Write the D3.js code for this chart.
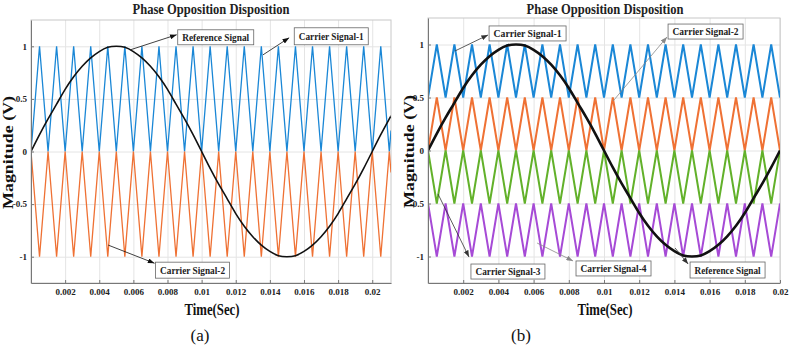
<!DOCTYPE html>
<html>
<head>
<meta charset="utf-8">
<script src="https://cdn.jsdelivr.net/npm/d3@7"></script>
<style>
body { margin: 0; background: #fff; }
svg { display: block; }
</style>
</head>
<body>
<div id="chart"></div>
<script>
// sample times (s) at carrier vertices
var timeA = [0, 0.0005, 0.001, 0.0015, 0.002, 0.0025, 0.003, 0.0035, 0.004, 0.0045,
    0.005, 0.0055, 0.006, 0.0065, 0.007, 0.0075, 0.008, 0.0085, 0.009, 0.0095,
    0.01, 0.0105, 0.011, 0.0115, 0.012, 0.0125, 0.013, 0.0135, 0.014, 0.0145,
    0.015, 0.0155, 0.016, 0.0165, 0.017, 0.0175, 0.018, 0.0185, 0.019, 0.0195,
    0.02, 0.0205, 0.021, 0.0211];
var timeB = timeA.slice(0, 41);

// reference sine
var referenceA = [0, 0.16, 0.31, 0.45, 0.59, 0.71, 0.81, 0.89, 0.95, 0.99,
    1, 0.99, 0.95, 0.89, 0.81, 0.71, 0.59, 0.45, 0.31, 0.16,
    0, -0.16, -0.31, -0.45, -0.59, -0.71, -0.81, -0.89, -0.95, -0.99,
    -1, -0.99, -0.95, -0.89, -0.81, -0.71, -0.59, -0.45, -0.31, -0.16,
    0, 0.16, 0.31, 0.34];
var referenceB = referenceA.slice(0, 41);

// panel (a) carriers
var carrier1A = [0, 1, 0, 1, 0, 1, 0, 1, 0, 1, 0, 1, 0, 1, 0, 1, 0, 1, 0, 1,
    0, 1, 0, 1, 0, 1, 0, 1, 0, 1, 0, 1, 0, 1, 0, 1, 0, 1, 0, 1, 0, 1, 0, 0.2];
var carrier2A = [0, -1, 0, -1, 0, -1, 0, -1, 0, -1, 0, -1, 0, -1, 0, -1, 0, -1, 0, -1,
    0, -1, 0, -1, 0, -1, 0, -1, 0, -1, 0, -1, 0, -1, 0, -1, 0, -1, 0, -1, 0, -1, 0, -0.2];

// panel (b) carriers
var carrier1B = [0.5, 1, 0.5, 1, 0.5, 1, 0.5, 1, 0.5, 1, 0.5, 1, 0.5, 1, 0.5, 1, 0.5, 1, 0.5, 1,
    0.5, 1, 0.5, 1, 0.5, 1, 0.5, 1, 0.5, 1, 0.5, 1, 0.5, 1, 0.5, 1, 0.5, 1, 0.5, 1, 0.5];
var carrier2B = [0, 0.5, 0, 0.5, 0, 0.5, 0, 0.5, 0, 0.5, 0, 0.5, 0, 0.5, 0, 0.5, 0, 0.5, 0, 0.5,
    0, 0.5, 0, 0.5, 0, 0.5, 0, 0.5, 0, 0.5, 0, 0.5, 0, 0.5, 0, 0.5, 0, 0.5, 0, 0.5, 0];
var carrier3B = [0, -0.5, 0, -0.5, 0, -0.5, 0, -0.5, 0, -0.5, 0, -0.5, 0, -0.5, 0, -0.5, 0, -0.5, 0, -0.5,
    0, -0.5, 0, -0.5, 0, -0.5, 0, -0.5, 0, -0.5, 0, -0.5, 0, -0.5, 0, -0.5, 0, -0.5, 0, -0.5, 0];
var carrier4B = [-0.5, -1, -0.5, -1, -0.5, -1, -0.5, -1, -0.5, -1, -0.5, -1, -0.5, -1, -0.5, -1, -0.5, -1, -0.5, -1,
    -0.5, -1, -0.5, -1, -0.5, -1, -0.5, -1, -0.5, -1, -0.5, -1, -0.5, -1, -0.5, -1, -0.5, -1, -0.5, -1, -0.5];

var xTickValues = [0.002, 0.004, 0.006, 0.008, 0.01, 0.012, 0.014, 0.016, 0.018, 0.02];
var xTickLabels = ["0.002", "0.004", "0.006", "0.008", "0.01", "0.012", "0.014", "0.016", "0.018", "0.02"];
var yTickValues = [-1, -0.5, 0, 0.5, 1];
var yTickLabels = ["-1", "-0.5", "0", "0.5", "1"];

var blue = "#1a87d6", orange = "#ef7134", green = "#62b12a", purple = "#a64ad6";
var serif = "'Liberation Serif', 'Times New Roman', serif";

var panels = [
    {
        id: "a", left: 31, right: 391, top: 20, bottom: 283, xMax: 0.0211,
        titleX: 211, ylabX: 8, tagX: 200, carrierWidth: 1.3, refWidth: 1.6,
        time: timeA, reference: referenceA,
        carriers: [{ values: carrier1A, color: blue }, { values: carrier2A, color: orange }],
        notes: [
            { text: "Reference Signal", from: [0.00583, 0.967], tip: [0.00854, 1.11], box: [0.0086, 1.157], w: 76, h: 15, color: "#111" },
            { text: "Carrier Signal-1", from: [0.0136, 0.919], tip: [0.01513, 1.081], box: [0.01543, 1.176], w: 74, h: 17, color: "#111" },
            { text: "Carrier Signal-2", from: [0.00453, -0.89], tip: [0.00724, -1.062], box: [0.0073, -1.052], w: 74, h: 16, color: "#111" }
        ]
    },
    {
        id: "b", left: 428, right: 780, top: 18, bottom: 283, xMax: 0.02,
        titleX: 605, ylabX: 409, tagX: 521, carrierWidth: 2, refWidth: 2.6,
        time: timeB, reference: referenceB,
        carriers: [{ values: carrier1B, color: blue }, { values: carrier2B, color: orange },
                   { values: carrier3B, color: green }, { values: carrier4B, color: purple }],
        notes: [
            { text: "Carrier Signal-1", from: [0.001535, 0.939], tip: [0.00341, 1.09], box: [0.00347, 1.175], w: 77, h: 15, color: "#333" },
            { text: "Carrier Signal-2", from: [0.01052, 0.467], tip: [0.01358, 1.071], box: [0.01364, 1.193], w: 75, h: 15, color: "#888" },
            { text: "Carrier Signal-3", from: [0.000568, -0.41], tip: [0.00233, -1.005], box: [0.00244, -1.071], w: 74, h: 15, color: "#333" },
            { text: "Carrier Signal-4", from: [0.0062, -0.873], tip: [0.00824, -1.042], box: [0.00841, -1.042], w: 75, h: 15, color: "#888" },
            { text: "Reference Signal", from: [0.01404, -0.92], tip: [0.01478, -1.071], box: [0.01489, -1.052], w: 75, h: 16, color: "#333" }
        ]
    }
];

function init() {
    var svg = d3.select("#chart")
        .append("svg")
        .attr("width", 789)
        .attr("height", 347);

    var defs = svg.append("defs");
    ["#111", "#333", "#888"].forEach(function(c, i) {
        defs.append("marker")
            .attr("id", "arrow" + i)
            .attr("markerUnits", "userSpaceOnUse")
            .attr("viewBox", "0 0 8 6")
            .attr("refX", 8).attr("refY", 3)
            .attr("markerWidth", 7).attr("markerHeight", 5)
            .attr("orient", "auto")
            .append("path")
            .attr("d", "M0,0 L8,3 L0,6 Z")
            .attr("fill", c);
    });

    panels.forEach(function(p) { drawPanel(svg, p); });
}

function drawPanel(svg, p) {
    var w = p.right - p.left, h = p.bottom - p.top;
    var xScale = d3.scaleLinear().domain([0, p.xMax]).range([p.left, p.right]);
    var yScale = d3.scaleLinear().domain([-1.25, 1.25]).range([p.bottom, p.top]);

    var g = svg.append("g");

    g.append("clipPath").attr("id", "clip" + p.id)
        .append("rect").attr("x", p.left).attr("y", p.top).attr("width", w).attr("height", h);

    // grid
    g.append("g")
        .attr("transform", "translate(0," + p.bottom + ")")
        .call(d3.axisBottom(xScale).tickValues(xTickValues).tickSize(-h).tickFormat(""))
        .call(function(s) {
            s.select(".domain").remove();
            s.selectAll("line").attr("stroke", "#e4e4e4");
        });
    g.append("g")
        .attr("transform", "translate(" + p.left + ",0)")
        .call(d3.axisLeft(yScale).tickValues(yTickValues).tickSize(-w).tickFormat(""))
        .call(function(s) {
            s.select(".domain").remove();
            s.selectAll("line").attr("stroke", "#e4e4e4");
        });

    // box
    g.append("rect")
        .attr("x", p.left).attr("y", p.top).attr("width", w).attr("height", h)
        .attr("fill", "none").attr("stroke", "#c8c8c8");

    // carriers
    var plot = g.append("g").attr("clip-path", "url(#clip" + p.id + ")");
    p.carriers.forEach(function(c) {
        var line = d3.line()
            .x(function(d, i) { return xScale(p.time[i]); })
            .y(function(d) { return yScale(d); });
        plot.append("path")
            .attr("d", line(c.values))
            .attr("fill", "none")
            .attr("stroke", c.color)
            .attr("stroke-width", p.carrierWidth)
            .attr("stroke-linejoin", "miter");
    });

    // reference
    var refLine = d3.line()
        .curve(d3.curveNatural)
        .x(function(d, i) { return xScale(p.time[i]); })
        .y(function(d) { return yScale(d); });
    plot.append("path")
        .attr("d", refLine(p.reference))
        .attr("fill", "none")
        .attr("stroke", "#111")
        .attr("stroke-width", p.refWidth);

    // axes
    var xAxis = g.append("g")
        .attr("transform", "translate(0," + p.bottom + ")")
        .call(d3.axisBottom(xScale).tickValues(xTickValues)
            .tickFormat(function(d, i) { return xTickLabels[i]; })
            .tickSize(-3).tickSizeOuter(0).tickPadding(6));
    var yAxis = g.append("g")
        .attr("transform", "translate(" + p.left + ",0)")
        .call(d3.axisLeft(yScale).tickValues(yTickValues)
            .tickFormat(function(d, i) { return yTickLabels[i]; })
            .tickSize(-3).tickSizeOuter(0).tickPadding(4));
    [xAxis, yAxis].forEach(function(a) {
        a.select(".domain").attr("stroke", "#777");
        a.selectAll(".tick line").attr("stroke", "#777");
        a.selectAll("text")
            .attr("fill", "#222")
            .style("font-family", serif)
            .style("font-weight", "bold")
            .style("font-size", "9px");
    });

    // annotations
    p.notes.forEach(function(n) {
        var mi = ["#111", "#333", "#888"].indexOf(n.color);
        g.append("line")
            .attr("x1", xScale(n.from[0])).attr("y1", yScale(n.from[1]))
            .attr("x2", xScale(n.tip[0])).attr("y2", yScale(n.tip[1]))
            .attr("stroke", n.color).attr("stroke-width", 0.8)
            .attr("marker-end", "url(#arrow" + mi + ")");
        var bx = xScale(n.box[0]), by = yScale(n.box[1]);
        g.append("rect")
            .attr("x", bx).attr("y", by).attr("width", n.w).attr("height", n.h)
            .attr("fill", "#fff").attr("stroke", "#666").attr("stroke-width", 0.8);
        g.append("text")
            .attr("x", bx + n.w / 2).attr("y", by + n.h / 2 + 3.5)
            .attr("text-anchor", "middle")
            .attr("textLength", n.w - 9)
            .attr("lengthAdjust", "spacingAndGlyphs")
            .style("font-family", serif).style("font-weight", "bold").style("font-size", "10.5px")
            .attr("fill", "#222")
            .text(n.text);
    });

    // titles and labels
    g.append("text")
        .attr("x", p.titleX).attr("y", 14)
        .attr("text-anchor", "middle")
        .attr("textLength", 157).attr("lengthAdjust", "spacingAndGlyphs")
        .style("font-family", serif).style("font-weight", "bold").style("font-size", "15px")
        .attr("fill", "#222")
        .text("Phase Opposition Disposition");
    g.append("text")
        .attr("x", (p.left + p.right) / 2 + 1).attr("y", 315)
        .attr("text-anchor", "middle")
        .attr("textLength", 55).attr("lengthAdjust", "spacingAndGlyphs")
        .style("font-family", serif).style("font-weight", "bold").style("font-size", "16px")
        .attr("fill", "#111")
        .text("Time(Sec)");
    g.append("text")
        .attr("transform", "translate(" + (p.ylabX + 5) + "," + ((p.top + p.bottom) / 2 + 1) + ") rotate(-90)")
        .attr("text-anchor", "middle")
        .attr("textLength", 113).attr("lengthAdjust", "spacingAndGlyphs")
        .style("font-family", serif).style("font-weight", "bold").style("font-size", "15px")
        .attr("fill", "#111")
        .text("Magnitude (V)");
    g.append("text")
        .attr("x", p.tagX).attr("y", 341)
        .attr("text-anchor", "middle")
        .style("font-family", serif).style("font-size", "17px")
        .attr("fill", "#111")
        .text("(" + p.id + ")");
}

window.onload = init;
</script>
</body>
</html>
